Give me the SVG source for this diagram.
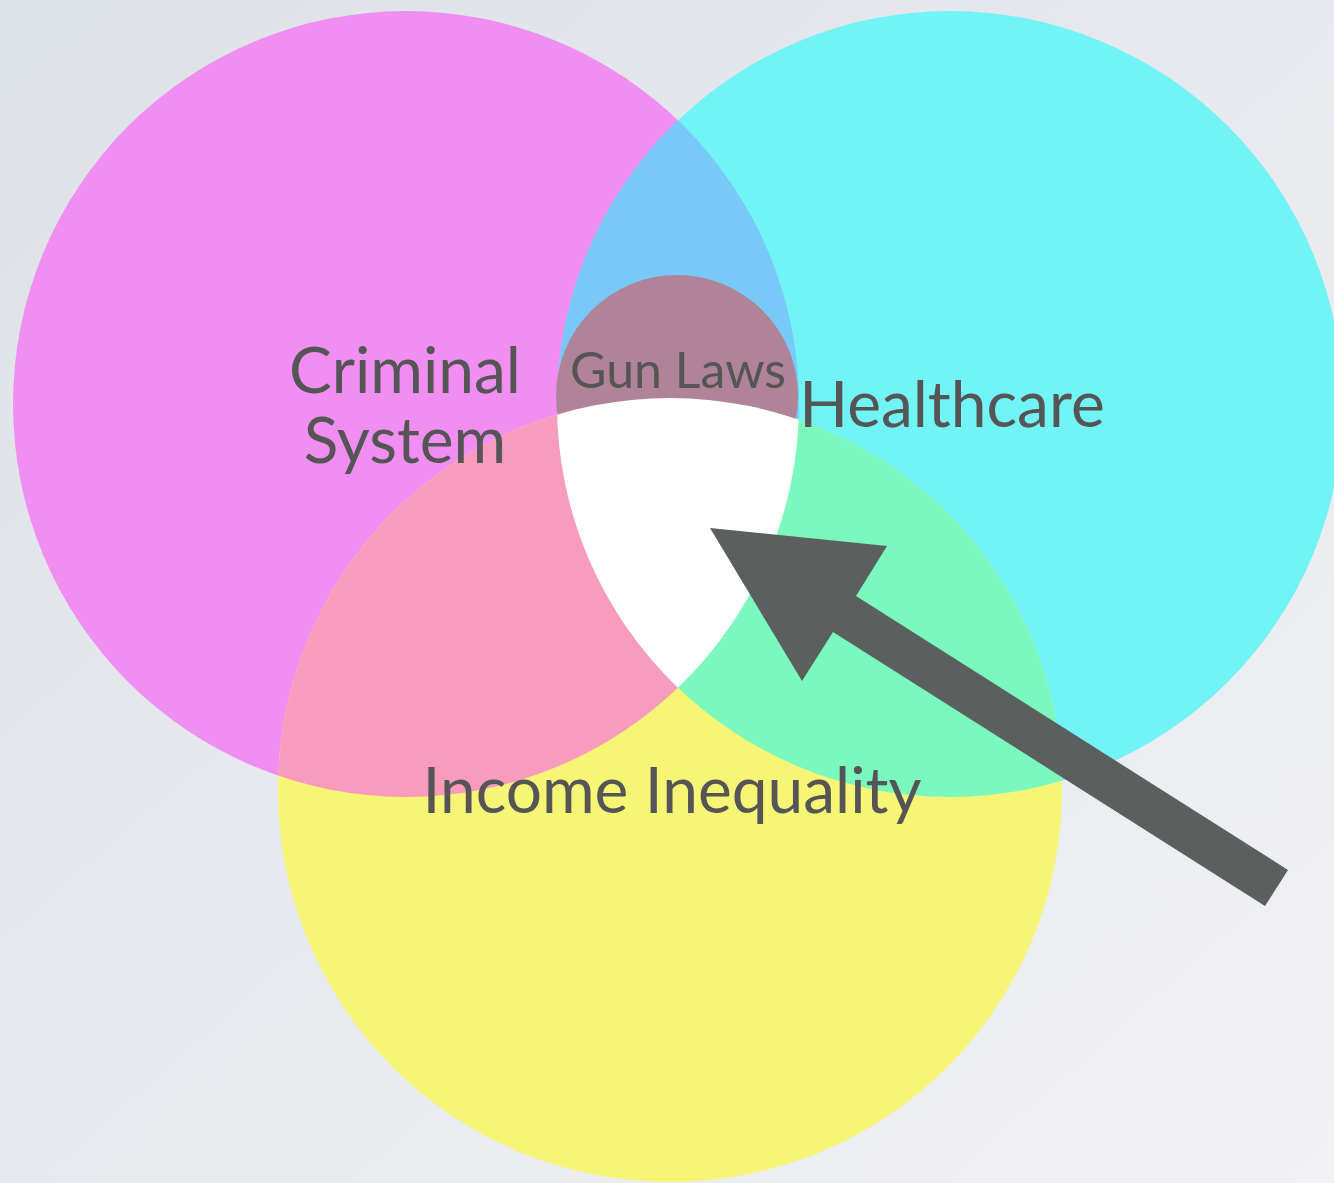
<svg xmlns="http://www.w3.org/2000/svg" width="1334" height="1183" viewBox="0 0 1334 1183">
<defs>
<linearGradient id="bg" x1="0" y1="0" x2="1" y2="1">
<stop offset="0" stop-color="#DDE2E7"/>
<stop offset="1" stop-color="#F1F1F5"/>
</linearGradient>
<clipPath id="cM"><circle cx="406" cy="404" r="393"/></clipPath>
<clipPath id="cC"><circle cx="950" cy="404" r="393"/></clipPath>
<clipPath id="cMC" clip-path="url(#cM)"><circle cx="950" cy="404" r="393"/></clipPath>
<style>
.lbl{font-family:Lato,"Open Sans","Liberation Sans",sans-serif;fill:#555555;text-anchor:middle}
.big{font-size:64px}
.small{font-size:50px}
</style>
</defs>
<rect width="1334" height="1183" fill="url(#bg)"/>
<g id="criminal-system">
<circle cx="406" cy="404" r="393" fill="#F08EF2"/>
</g>
<g id="healthcare">
<circle cx="950" cy="404" r="393" fill="#72F3F5"/>
</g>
<g id="income-inequality">
<circle cx="670" cy="790" r="392" fill="#F6F576"/>
</g>
<g id="overlaps">
<circle cx="950" cy="404" r="393" fill="#78C8F8" clip-path="url(#cM)"/>
<circle cx="670" cy="790" r="392" fill="#F89BBC" clip-path="url(#cM)"/>
<circle cx="670" cy="790" r="392" fill="#7AF8BE" clip-path="url(#cC)"/>
</g>
<g id="gun-laws">
<circle cx="677" cy="396" r="121" fill="#B08399"/>
</g>
<g id="center">
<circle cx="670" cy="790" r="392" fill="#FFFFFF" clip-path="url(#cMC)"/>
</g>
<g id="labels">
<text class="lbl big" x="405" y="393">Criminal</text>
<text class="lbl big" x="405" y="463">System</text>
<text class="lbl small" x="678" y="388">Gun Laws</text>
<text class="lbl big" x="952" y="427">Healthcare</text>
<text class="lbl big" x="672" y="813">Income Inequality</text>
</g>
<g id="connectors">
<polygon points="710,528 887,546 856,596 1288,870 1265,906 833,632 802,681" fill="#5B5F5D"/>
</g>
</svg>
